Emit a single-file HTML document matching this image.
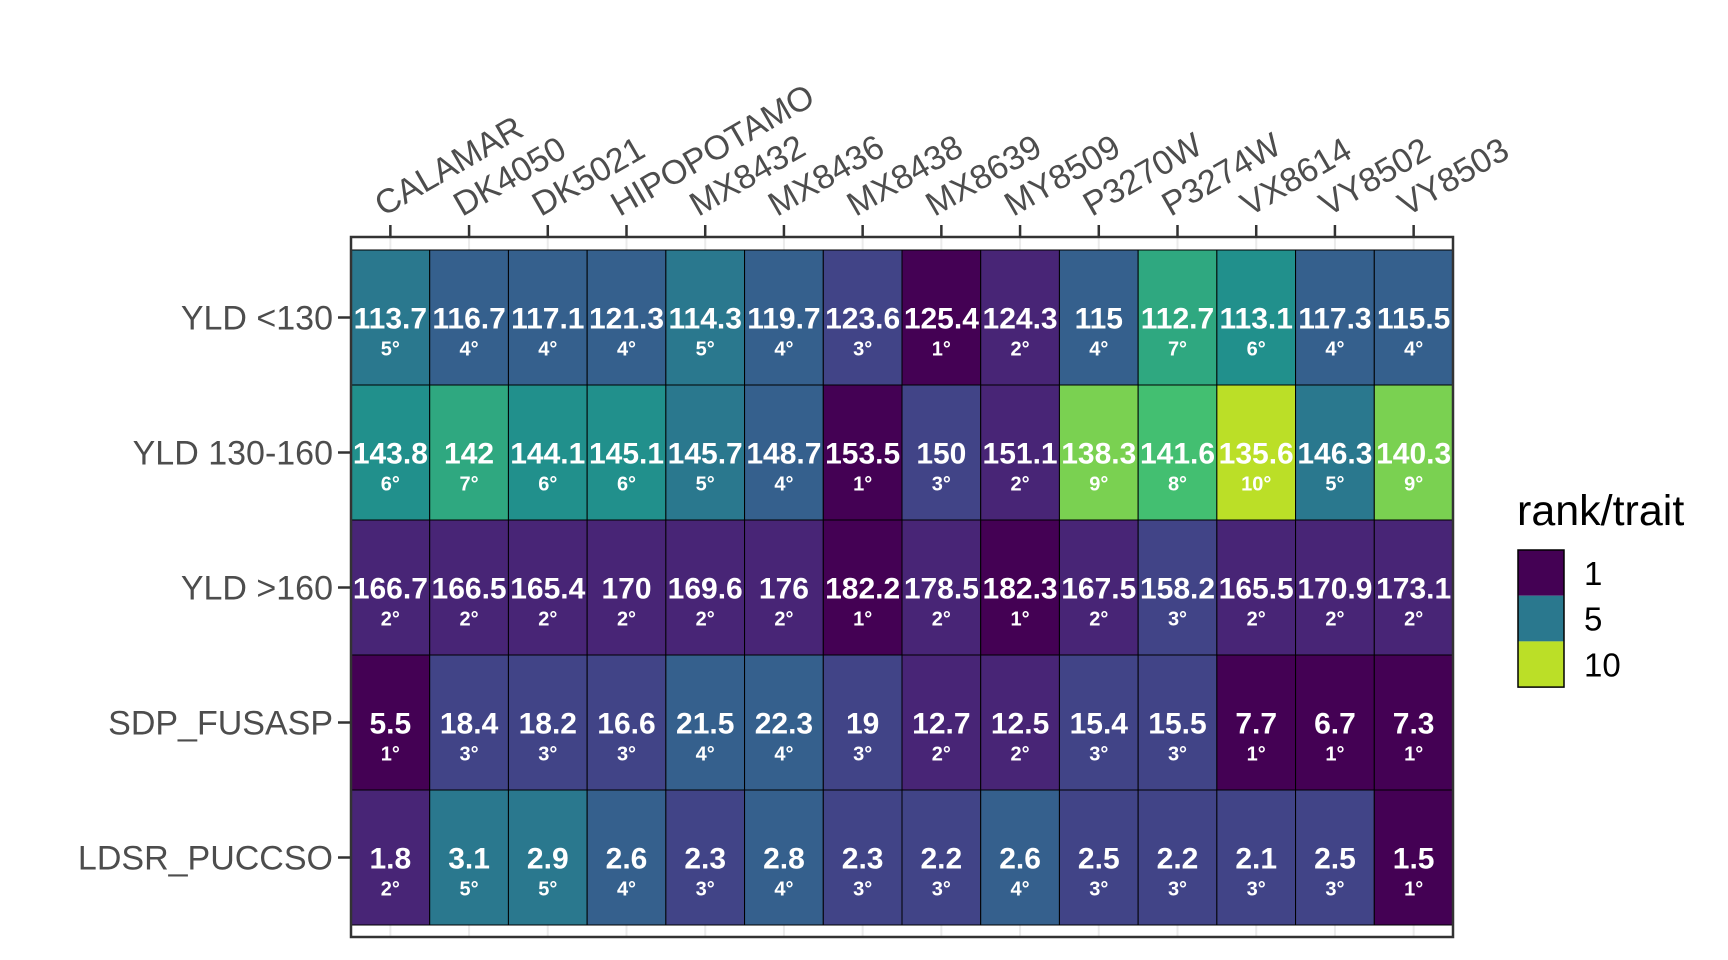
<!DOCTYPE html>
<html><head><meta charset="utf-8"><style>
html,body{margin:0;padding:0;background:#fff}
svg{display:block;font-family:"Liberation Sans",Arial,sans-serif}
</style></head><body>
<svg id="chart" width="1728" height="960" viewBox="0 0 1728 960" xmlns="http://www.w3.org/2000/svg">
<rect x="0" y="0" width="1728" height="960" fill="#fff"/>
<g id="grid"></g><g id="tiles"></g><g id="labels"></g><g id="axes"></g><g id="legend"></g>
</svg>
<script>
const varieties = ["CALAMAR","DK4050","DK5021","HIPOPOTAMO","MX8432","MX8436","MX8438","MX8639","MY8509","P3270W","P3274W","VX8614","VY8502","VY8503"];
const traits = ["YLD <130","YLD 130-160","YLD >160","SDP_FUSASP","LDSR_PUCCSO"];
const valuesYldLow = ["113.7","116.7","117.1","121.3","114.3","119.7","123.6","125.4","124.3","115","112.7","113.1","117.3","115.5"];
const ranksYldLow = [5,4,4,4,5,4,3,1,2,4,7,6,4,4];
const valuesYldMid = ["143.8","142","144.1","145.1","145.7","148.7","153.5","150","151.1","138.3","141.6","135.6","146.3","140.3"];
const ranksYldMid = [6,7,6,6,5,4,1,3,2,9,8,10,5,9];
const valuesYldHigh = ["166.7","166.5","165.4","170","169.6","176","182.2","178.5","182.3","167.5","158.2","165.5","170.9","173.1"];
const ranksYldHigh = [2,2,2,2,2,2,1,2,1,2,3,2,2,2];
const valuesSdp = ["5.5","18.4","18.2","16.6","21.5","22.3","19","12.7","12.5","15.4","15.5","7.7","6.7","7.3"];
const ranksSdp = [1,3,3,3,4,4,3,2,2,3,3,1,1,1];
const valuesLdsr = ["1.8","3.1","2.9","2.6","2.3","2.8","2.3","2.2","2.6","2.5","2.2","2.1","2.5","1.5"];
const ranksLdsr = [2,5,5,4,3,4,3,3,4,3,3,3,3,1];
const legendBreaks = [1,5,10];

const allValues=[valuesYldLow,valuesYldMid,valuesYldHigh,valuesSdp,valuesLdsr];
const allRanks=[ranksYldLow,ranksYldMid,ranksYldHigh,ranksSdp,ranksLdsr];
const viridis=["#440154","#482576","#414487","#35608D","#2A788E","#21908C","#2FA880","#43BF71","#7AD151","#BBDF27","#FDE725"];
function color(r){return viridis[Math.max(0,Math.min(10,Math.round(r)-1))];}
const NS="http://www.w3.org/2000/svg";
const PL=351,PR=1453,PT=237,PB=937,TT=250,TB=925;
const cw=(PR-PL)/varieties.length, rh=(TB-TT)/traits.length;
const xC=i=>PL+cw*(i+0.5), yC=j=>TT+rh*(j+0.5);
function mk(tag,attrs,parent,text){const e=document.createElementNS(NS,tag);for(const k in attrs)e.setAttribute(k,attrs[k]);if(text!==undefined)e.textContent=text;parent.appendChild(e);return e;}
const grid=document.getElementById('grid'),tiles=document.getElementById('tiles'),labels=document.getElementById('labels'),axes=document.getElementById('axes'),legend=document.getElementById('legend');
varieties.forEach((v,i)=>{const g=mk('line',{x1:xC(i),x2:xC(i),y1:PT,y2:PB,stroke:'#ebebeb','stroke-width':2},grid);

});
traits.forEach((t,j)=>{
  varieties.forEach((v,i)=>{
    const r=allRanks[j][i];
    const rect=mk('rect',{x:PL+cw*i,y:TT+rh*j,width:cw,height:rh,fill:color(r),stroke:'#000','stroke-width':1},tiles);
    
    
    const tv=mk('text',{x:xC(i),y:yC(j)+11,'text-anchor':'middle',fill:'#fff','font-weight':'bold','font-size':30},labels,allValues[j][i]);
    
    
    const tr=mk('text',{x:xC(i),y:yC(j)+38,'text-anchor':'middle',fill:'#fff','font-weight':'bold','font-size':20},labels,r+'°');
    
    
  });
  const yl=mk('text',{x:333,y:yC(j)+12,'text-anchor':'end',fill:'#4d4d4d','font-size':34},axes,t);
  
  
  const yt=mk('line',{x1:338,x2:PL,y1:yC(j),y2:yC(j),stroke:'#333','stroke-width':2.5},axes);
  
  
});
varieties.forEach((v,i)=>{
  const t=mk('line',{x1:xC(i),x2:xC(i),y1:PT-12,y2:PT,stroke:'#333','stroke-width':2.5},axes);
  
  
  const x=xC(i)-7,y=PT-20;
  const l=mk('text',{x:x,y:y,transform:'rotate(-30 '+x+' '+y+')',fill:'#4d4d4d','font-size':34},axes,v);
  
  
});
const border=mk('rect',{x:PL,y:PT,width:PR-PL,height:PB-PT,fill:'none',stroke:'#333','stroke-width':2.5},axes);


const lt=mk('text',{x:1517,y:525,fill:'#000','font-size':43},legend,'rank/trait');


const LY=550,bandH=45.7;
legendBreaks.forEach((b,k)=>{
  const r=mk('rect',{x:1518,y:LY+bandH*k,width:46,height:bandH,fill:color(b)},legend);
  
  
  const t=mk('text',{x:1584,y:LY+bandH*k+bandH/2+12,fill:'#000','font-size':33},legend,String(b));
  
  
});
const lb=mk('rect',{x:1518,y:LY,width:46,height:bandH*3,fill:'none',stroke:'#000','stroke-width':1.5},legend);


</script>
</body></html>
